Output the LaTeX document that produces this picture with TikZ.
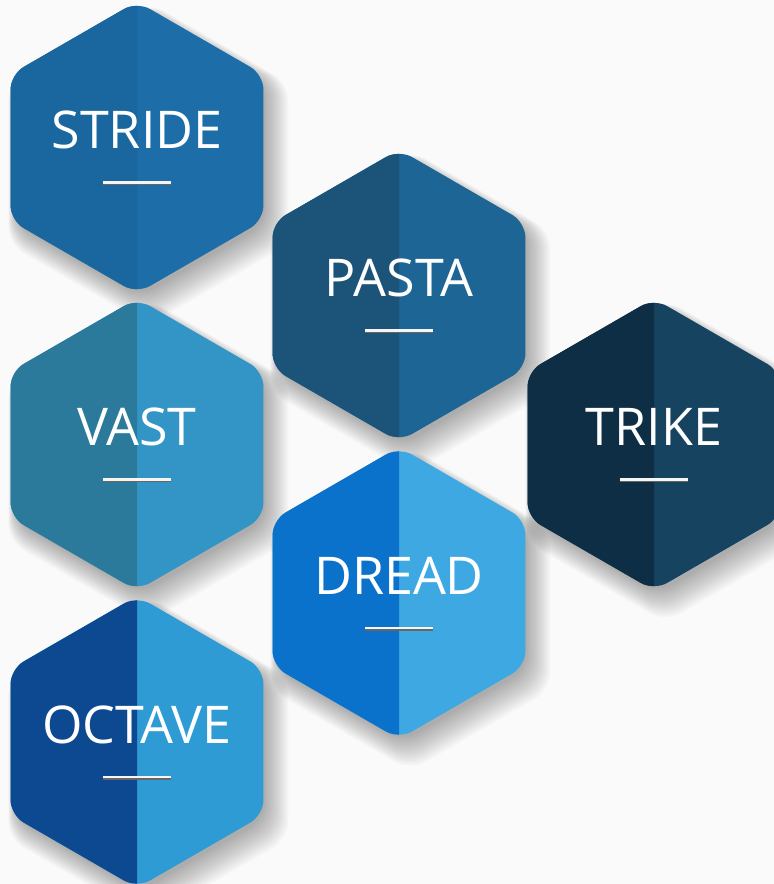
\documentclass[tikz,border=0pt]{standalone}
\usepackage{fontspec}
\setmainfont{Open Sans}
\usepackage{tikz}

\definecolor{strideL}{HTML}{1A67A0}
\definecolor{strideR}{HTML}{1C6DA8}
\definecolor{pastaL}{HTML}{1B5478}
\definecolor{pastaR}{HTML}{1D6594}
\definecolor{trikeL}{HTML}{0D2E44}
\definecolor{trikeR}{HTML}{16435F}
\definecolor{vastL}{HTML}{2B7A9B}
\definecolor{vastR}{HTML}{3394C6}
\definecolor{dreadL}{HTML}{0A72CA}
\definecolor{dreadR}{HTML}{3DA8E1}
\definecolor{octaveL}{HTML}{0C4991}
\definecolor{octaveR}{HTML}{2E9BD5}

\newcommand{\hexpath}[1]{(90:#1) -- (30:#1) -- (-30:#1) -- (-90:#1) -- (-150:#1) -- (150:#1) -- cycle}

\tikzset{
  hexlabel/.style={text=white, font=\fontsize{52}{60}\selectfont, anchor=base, inner sep=0pt},
}

\begin{document}
\begin{tikzpicture}[x=1pt, y=-1pt]
			% 背景
			\clip (0,0) rectangle (774,884);
			\fill[gray!4] (0,0) rectangle (774,884);
			
			% 六边形
			\foreach \nm/\cx/\cy/\txt in {stride/137/147.5/STRIDE, pasta/399/295.5/PASTA,
				trike/654/444.5/TRIKE, vast/137/444.5/VAST, dread/399/593/DREAD,
				octave/137/742/OCTAVE} {
				\begin{scope}[shift={(\cx,\cy)}]
					% 阴影
					\foreach \k in {1,...,14}
						\fill[black, opacity=0.022, rounded corners=18pt]
						[shift={(3+\k*0.6,5+\k*0.8)}] \hexpath{142+\k*1.4};
					\fill[\nm R, rounded corners=15pt] \hexpath{146};
					\begin{scope}
						\clip (-160,-160) rectangle (0,160);
						\fill[\nm L, rounded corners=15pt] \hexpath{146};
					\end{scope}
					\node[hexlabel] (\nm) at (0,1) {\txt};
					\coordinate (\nm-a) at (-34,35);
					\coordinate (\nm-b) at (34,35);
				\end{scope}
				\draw[black!60, line width=2pt] ([yshift=-1.5pt]\nm-a) -- ([yshift=-1.5pt]\nm-b);
				\draw[white!92!gray, line width=2.5pt] (\nm-a) -- (\nm-b);
			}
		\end{tikzpicture}
\end{document}
